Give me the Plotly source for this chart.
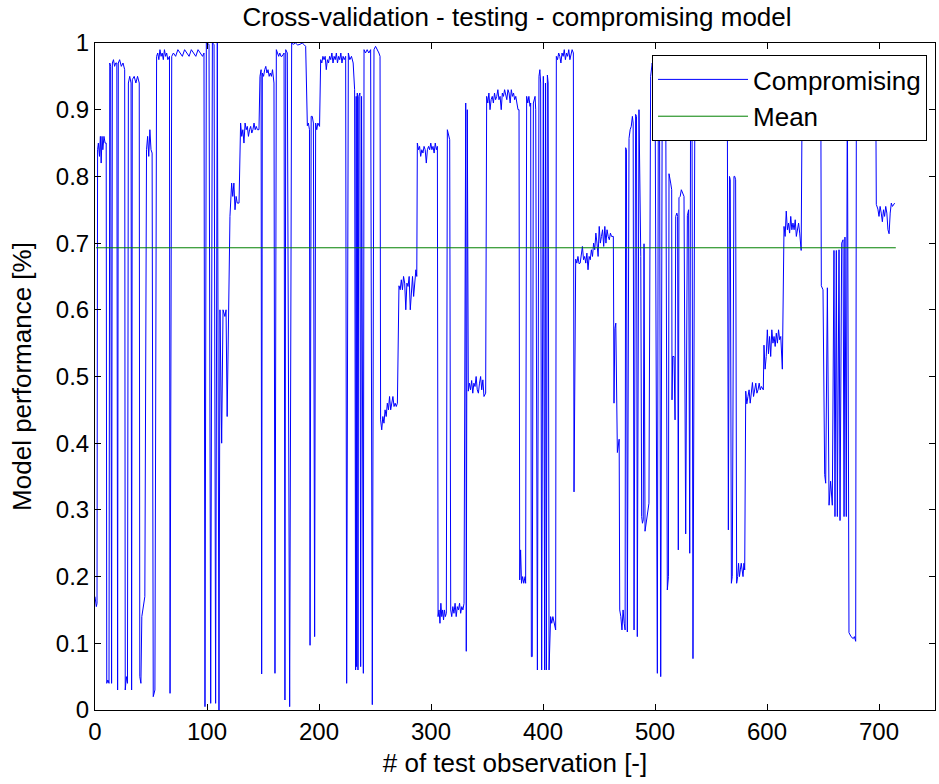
import plotly.graph_objects as go

# (test observation, model performance), segment by segment
seg_a = [(0, 0.17), (0.6, 0.16), (1.2, 0.155), (1.8, 0.16), (2.3, 0.84), (3, 0.85), (4, 0.83), (4.8, 0.86),
         (5.5, 0.82), (6.3, 0.86), (7, 0.84), (8, 0.86), (9, 0.85), (10, 0.85), (10.5, 0.04), (11.5, 0.045),
         (12.5, 0.04), (13.2, 0.97), (14, 0.965), (14.8, 0.04), (15.5, 0.97), (16.5, 0.975), (17.5, 0.965),
         (18.5, 0.97), (19.5, 0.97), (20.2, 0.03), (20.8, 0.97), (22, 0.975), (23.5, 0.965), (25, 0.97),
         (26.5, 0.96), (27, 0.03), (28, 0.05), (29, 0.04), (29.8, 0.94), (31, 0.95), (32.2, 0.94), (32.7, 0.03),
         (33.3, 0.945), (35, 0.95), (36.5, 0.94), (38, 0.95), (39.5, 0.94), (40, 0.05), (41, 0.04), (41.8, 0.14),
         (42.5, 0.15), (43.5, 0.16), (44.5, 0.17), (46, 0.84), (47, 0.86), (48, 0.83), (49, 0.87), (50, 0.84),
         (51, 0.835), (52, 0.02), (53.5, 0.03), (55, 0.98), (56, 0.985), (57, 0.975), (58, 0.99), (59, 0.98),
         (60, 0.985), (61, 0.975), (62, 0.99), (63, 0.98), (64, 0.985), (65, 0.975), (66.5, 0.98), (67, 0.025),
         (68.5, 0.98), (70, 0.985), (72, 0.98), (74, 0.99), (76, 0.985), (78, 0.98), (80, 0.99), (82, 0.985),
         (84, 0.98), (86, 0.99), (88, 0.985), (90, 0.98), (92, 0.99), (94, 0.985), (96, 0.98), (97.3, 0.985)]

seg_b = [(98.2, 0.005), (99.4, 1.0), (101.8, 0.998), (103.3, 0.01), (104.8, 1.0), (106.3, 0.998), (107.7, 0.01),
         (109.2, 1.0), (110.7, 0.0), (111.6, 0.6), (113.1, 0.4), (114.3, 0.6), (116, 0.59), (117, 0.6),
         (118, 0.44), (120.5, 0.74), (121.1, 0.76), (122, 0.79), (123, 0.77), (124, 0.79), (125, 0.75),
         (126, 0.77), (127, 0.76), (128.6, 0.76), (130, 0.88), (131, 0.86), (132, 0.87), (133, 0.85), (134, 0.88),
         (135, 0.87), (136, 0.875), (137, 0.86), (138, 0.87), (139, 0.875), (140, 0.865), (141, 0.87), (142, 0.88),
         (143, 0.87), (144, 0.875), (145, 0.87), (146.4, 0.87), (147.3, 0.95), (148.3, 0.96), (148.8, 0.054),
         (149.4, 0.955), (150.5, 0.95), (151.5, 0.96), (152.5, 0.965), (153.5, 0.955), (154.5, 0.96),
         (155.5, 0.95), (156.5, 0.955), (157.5, 0.95), (158.5, 0.96), (159.8, 0.94), (160.7, 0.055), (161.9, 0.99),
         (163, 0.985), (164, 0.98), (165, 0.985), (166, 0.98), (167, 0.98), (168.8, 0.985), (169.6, 0.015),
         (170.3, 0.99), (171.7, 0.985), (173.8, 0.005), (175.6, 1.0), (177, 0.998), (179, 1.0), (181, 0.997),
         (183, 0.998), (185, 1.0), (187, 0.997), (188.1, 0.995)]

seg_c = [(189.6, 0.876), (190.5, 0.88), (191.5, 0.87), (192, 0.097), (193, 0.89), (194, 0.89), (195, 0.88),
         (196.1, 0.11), (197, 0.88), (198, 0.87), (199, 0.88), (200.5, 0.875), (201.5, 0.975), (202.5, 0.97),
         (203.5, 0.98), (204.5, 0.975), (205.5, 0.98), (206.5, 0.96), (207.5, 0.975), (208.5, 0.97), (209.5, 0.98),
         (210.5, 0.975), (211.5, 0.985), (212.5, 0.97), (213.5, 0.98), (214.5, 0.975), (215.5, 0.985),
         (216.5, 0.97), (217.5, 0.98), (218.5, 0.975), (219.5, 0.985), (220.5, 0.97), (221.5, 0.98),
         (222.5, 0.975), (223.8, 0.98), (224.7, 0.04), (226.2, 0.985), (227.5, 0.975), (229, 0.98), (230.5, 0.97),
         (231.8, 0.93), (232.7, 0.06), (233.2, 0.92), (233.6, 0.065), (234.2, 0.925), (234.8, 0.06), (235.5, 0.92),
         (236.5, 0.925), (237.2, 0.065), (238, 0.92), (239.6, 0.055), (240.2, 0.99), (241.5, 0.985), (243, 0.99),
         (244.5, 0.985), (246.1, 0.99), (247.6, 0.008), (249.1, 0.99), (250.5, 0.995), (252.1, 0.99),
         (253.5, 0.985), (254.5, 0.98), (255, 0.435), (256, 0.42), (257, 0.44), (258, 0.43), (259, 0.45),
         (260, 0.44), (261, 0.46), (262, 0.45), (263, 0.47), (264, 0.45), (265, 0.46), (266, 0.47), (267, 0.455),
         (268, 0.46), (269, 0.455), (270, 0.46), (271.4, 0.636), (272.5, 0.63), (273.5, 0.645), (274.5, 0.63),
         (275.5, 0.65), (276.5, 0.64), (277.5, 0.6), (278.5, 0.64), (279.5, 0.635), (280.5, 0.65), (281.5, 0.6),
         (282.5, 0.63), (283.5, 0.65), (284.5, 0.62), (285.5, 0.65), (286.5, 0.66), (287.3, 0.65)]

seg_d = [(287.8, 0.85), (288.8, 0.84), (289.8, 0.845), (290.8, 0.83), (291.8, 0.84), (292.8, 0.835),
         (293.8, 0.845), (294.8, 0.84), (295.8, 0.82), (296.8, 0.84), (297.8, 0.845), (298.8, 0.84), (299.8, 0.85),
         (300.8, 0.84), (301.8, 0.845), (302.8, 0.835), (303.8, 0.85), (304.8, 0.84), (305.7, 0.845), (306.3, 0.14),
         (307.2, 0.15), (308, 0.13), (308.8, 0.16), (309.6, 0.14), (310.4, 0.15), (311.2, 0.135), (312, 0.15),
         (312.8, 0.14), (313.7, 0.145), (314.6, 0.87), (315.6, 0.86), (316.7, 0.855), (317.6, 0.15), (318.5, 0.14),
         (319.5, 0.155), (320.5, 0.145), (321.5, 0.16), (322.5, 0.14), (323.5, 0.155), (324.5, 0.15), (325.5, 0.16),
         (326.5, 0.145), (327.5, 0.155), (328.5, 0.15), (329.5, 0.16), (330.4, 0.906), (331, 0.91), (331.5, 0.088),
         (332.4, 0.9), (333.3, 0.478), (334.3, 0.49), (335.3, 0.48), (336.3, 0.494), (337.3, 0.475), (338.3, 0.49),
         (339.3, 0.485), (340.3, 0.5), (341.3, 0.48), (342.3, 0.475), (343.3, 0.49), (344.3, 0.5), (345.3, 0.48),
         (346.3, 0.495), (347.3, 0.47), (348.8, 0.475), (349.7, 0.92), (350.7, 0.91), (351.7, 0.925), (352.7, 0.9),
         (353.7, 0.915), (354.7, 0.92), (355.7, 0.91), (356.7, 0.925), (357.7, 0.915), (358.7, 0.92),
         (359.7, 0.93), (360.7, 0.915), (361.7, 0.92), (362.7, 0.9), (363.7, 0.925), (364.7, 0.92), (365.7, 0.93),
         (366.7, 0.92), (367.7, 0.915), (368.7, 0.93), (369.7, 0.925), (370.7, 0.91), (371.7, 0.93),
         (372.7, 0.92), (373.7, 0.925), (374.7, 0.915), (375.7, 0.92), (376.7, 0.91), (377.7, 0.9)]

seg_e = [(378.6, 0.9), (379.2, 0.195), (380, 0.24), (380.8, 0.19), (381.8, 0.2), (382.8, 0.19), (384, 0.2),
         (384.5, 0.19), (385.4, 0.92), (386.4, 0.91), (387.4, 0.92), (388.4, 0.905), (389, 0.91), (389.6, 0.08),
         (390.4, 0.08), (391.4, 0.91), (392.9, 0.92), (393.5, 0.9), (395, 0.06), (396.4, 0.95), (397.2, 0.96),
         (397.9, 0.94), (398.8, 0.06), (400.3, 0.95), (401.5, 0.06), (402.2, 0.94), (403, 0.06), (403.9, 0.952),
         (404.6, 0.94), (405.4, 0.06), (406.8, 0.14), (407.8, 0.13), (408.8, 0.14), (410, 0.13), (411.3, 0.12),
         (411.9, 0.98), (413, 0.975), (414, 0.985), (415, 0.98), (416, 0.97), (417, 0.985), (418, 0.98),
         (419, 0.99), (420, 0.975), (421, 0.985), (422, 0.98), (423, 0.99), (424, 0.975), (425, 0.985),
         (426, 0.99), (427.1, 0.985), (427.7, 0.327), (429.2, 0.676), (430.2, 0.67), (431.2, 0.68), (432.2, 0.669),
         (433.2, 0.67), (434.2, 0.68), (435.2, 0.695), (436.2, 0.675), (437.2, 0.68), (438.2, 0.67), (439.2, 0.685),
         (440.2, 0.66), (441.2, 0.68), (442.2, 0.675), (443.2, 0.69), (444.2, 0.68), (445.2, 0.7), (446.2, 0.69),
         (447.2, 0.715), (448.2, 0.7), (449.2, 0.68), (450.2, 0.725), (451.2, 0.7), (452.2, 0.71), (453.2, 0.72),
         (454.2, 0.695), (455.2, 0.725), (456.2, 0.7), (457.2, 0.72), (458.2, 0.71), (459.2, 0.705),
         (460.2, 0.715), (461.2, 0.71), (462.8, 0.71), (463.4, 0.46), (464.2, 0.572), (465, 0.58), (466.4, 0.386),
         (467.2, 0.4), (468, 0.406), (468.5, 0.15), (469.5, 0.14), (470.5, 0.12), (471.5, 0.15), (472.5, 0.13),
         (473.3, 0.12)]

seg_f = [(473.8, 0.843), (474.5, 0.84), (475.3, 0.117), (476.8, 0.857), (477.8, 0.87), (478.8, 0.875),
         (479.8, 0.89), (480.5, 0.88), (481.3, 0.12), (482.7, 0.893), (483.5, 0.89), (484.2, 0.11), (485.7, 0.9),
         (486.6, 0.718), (487.3, 0.68), (488.1, 0.29), (488.8, 0.28), (489.5, 0.285), (490.2, 0.699),
         (491.1, 0.268), (492, 0.28), (493.2, 0.29), (494, 0.3), (494.6, 0.31), (496.1, 0.95), (497.5, 0.97),
         (498.3, 0.96), (500, 0.97), (502.1, 0.055), (503, 0.96), (504, 0.95), (505.1, 0.05), (506.5, 0.96),
         (508, 0.95), (509.5, 0.96), (511, 0.18), (512, 0.2), (512.5, 0.804), (514, 0.79), (514.9, 0.78),
         (515.2, 0.465), (515.8, 0.53), (517, 0.53), (517.9, 0.435), (518.5, 0.74), (519.5, 0.745), (520.2, 0.74),
         (520.8, 0.24), (521.4, 0.768), (522.5, 0.77), (523.5, 0.78), (524.5, 0.775), (525.9, 0.77),
         (527.4, 0.264), (528.9, 0.741), (530, 0.75), (531, 0.235), (531.8, 0.95), (533, 0.96), (533.9, 0.077),
         (535.7, 0.96), (537, 0.97), (540, 0.96), (545, 0.97), (550, 0.96), (555, 0.97), (560, 0.96), (563, 0.97),
         (564.5, 0.96)]

seg_g = [(565.5, 0.27), (566.5, 0.8), (567.2, 0.795), (568.2, 0.19), (569, 0.2), (570.5, 0.8), (571.2, 0.8),
         (572, 0.795), (572.9, 0.19), (573.8, 0.2), (574.6, 0.22), (575.4, 0.2), (576.2, 0.21), (577, 0.22),
         (577.8, 0.21), (578.6, 0.2), (579.4, 0.22), (580.1, 0.21), (581, 0.478), (582, 0.459), (583, 0.47),
         (584, 0.48), (585, 0.46), (586, 0.48), (587, 0.491), (588, 0.47), (589, 0.48), (590, 0.49), (591, 0.475),
         (592, 0.48), (593, 0.49), (594, 0.48), (595, 0.485), (596.7, 0.48), (597.3, 0.547), (598.3, 0.511),
         (599.3, 0.53), (600.3, 0.57), (601.3, 0.534), (602.3, 0.56), (603.3, 0.53), (604.3, 0.57), (605.3, 0.55),
         (606.3, 0.56), (607.3, 0.545), (608.3, 0.565), (609.3, 0.55), (610.3, 0.57), (611.3, 0.555),
         (612.3, 0.56), (613.7, 0.511), (615.2, 0.725), (616.2, 0.71), (617.2, 0.748), (618.2, 0.72),
         (619.2, 0.73), (620.2, 0.715), (621.2, 0.74), (622.2, 0.72), (623.2, 0.73), (624.2, 0.72), (625.2, 0.735),
         (626.2, 0.71), (627.2, 0.72), (628.2, 0.73), (629.2, 0.715), (630.5, 0.689), (631.5, 0.95), (635, 0.97),
         (640, 0.96), (645, 0.97), (648, 0.96)]

seg_h = [(648.5, 0.636), (650, 0.63), (651.5, 0.353), (652.4, 0.34), (653.9, 0.633), (655.4, 0.307),
         (656.8, 0.343), (658.3, 0.307), (659.8, 0.689), (660.7, 0.29), (661.9, 0.689), (662.8, 0.29),
         (664.3, 0.69), (665.2, 0.284), (666.7, 0.7), (667.9, 0.705), (668.8, 0.29), (669.6, 0.709), (670.8, 0.29),
         (671.7, 0.95), (673.2, 0.116), (675, 0.11), (677, 0.107), (678, 0.11), (679.2, 0.103), (679.8, 0.96),
         (682, 0.97), (686, 0.96), (690, 0.97), (694, 0.96), (697, 0.97), (697.6, 0.758), (699, 0.751), (700, 0.74),
         (701, 0.755), (702, 0.745), (703, 0.732), (704, 0.75), (705, 0.74), (706, 0.755), (707, 0.745),
         (708, 0.72), (709, 0.714), (710, 0.745), (711, 0.76), (712, 0.755), (713, 0.758), (714, 0.76)]

mean_x = [1, 715]
mean_value = [0.693, 0.693]

x_ticks = [0, 100, 200, 300, 400, 500, 600, 700]
y_ticks = [0, 0.1, 0.2, 0.3, 0.4, 0.5, 0.6, 0.7, 0.8, 0.9, 1]

points = seg_a + seg_b + seg_c + seg_d + seg_e + seg_f + seg_g + seg_h
obs = [p[0] for p in points]
perf = [p[1] for p in points]

FONT = "Liberation Sans, Arial, sans-serif"

fig = go.Figure()
fig.add_trace(go.Scatter(x=obs, y=perf, mode="lines", name="Compromising",
                         line=dict(color="#0000FF", width=1)))
fig.add_trace(go.Scatter(x=mean_x, y=mean_value, mode="lines", name="Mean",
                         line=dict(color="#008000", width=1)))

axis_common = dict(showline=True, linecolor="black", linewidth=1, mirror="allticks",
                   ticks="inside", ticklen=6, tickcolor="black", showgrid=False, zeroline=False,
                   tickfont=dict(family=FONT, size=24, color="black"))

fig.update_layout(
    width=939, height=784,
    margin=dict(l=95, r=4, t=43, b=74),
    paper_bgcolor="white", plot_bgcolor="white",
    title=dict(text="Cross-validation - testing - compromising model", x=0.5506, xanchor="center",
               y=0.978, yanchor="middle", font=dict(family=FONT, size=26, color="black")),
    xaxis=dict(range=[0, 750], tickvals=x_ticks,
               title=dict(text="# of test observation [-]", standoff=10,
                          font=dict(family=FONT, size=26, color="black")), **axis_common),
    yaxis=dict(range=[0, 1], tickvals=y_ticks,
               title=dict(text="Model performance [%]", standoff=16,
                          font=dict(family=FONT, size=26, color="black")), **axis_common),
    legend=dict(x=0.9905, xanchor="right", y=0.982, yanchor="top", bgcolor="white",
                bordercolor="black", borderwidth=1, itemwidth=90,
                font=dict(family=FONT, size=26, color="black")),
    showlegend=True,
)

fig.write_html("out.html")
